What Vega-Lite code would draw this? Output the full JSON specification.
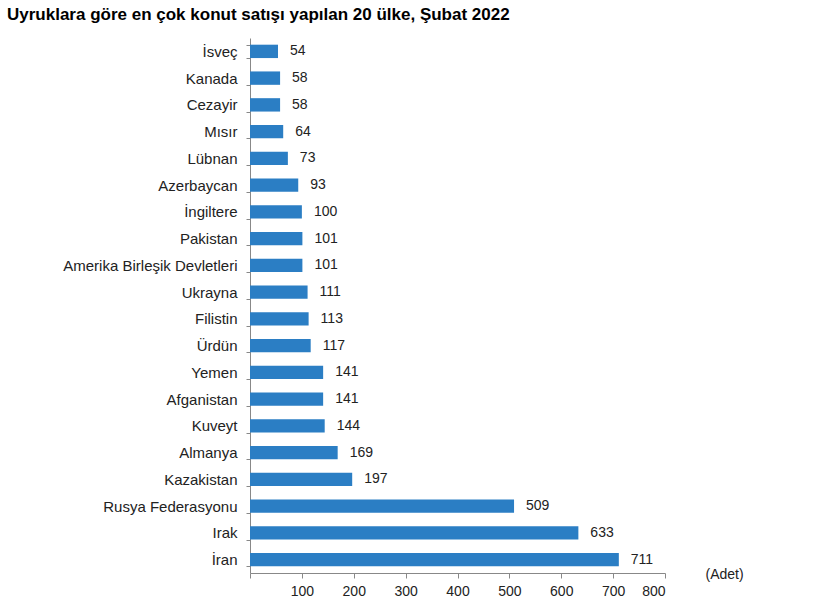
{
  "$schema": "https://vega.github.io/schema/vega-lite/v6.json",
  "autosize": "none",
  "width": 415,
  "height": 535,
  "padding": {"left": 250, "top": 38, "right": 166, "bottom": 35},
  "background": "white",
  "title": {
    "text": "Uyruklara göre en çok konut satışı yapılan 20 ülke, Şubat 2022",
    "anchor": "start",
    "frame": "group",
    "dx": -243,
    "offset": 7,
    "font": "Liberation Sans",
    "fontSize": 17,
    "fontWeight": "bold",
    "color": "#000000"
  },
  "config": {
    "view": {"stroke": null},
    "font": "Liberation Sans"
  },
  "data": {
    "values": [
      {"ulke": "İsveç", "adet": 54},
      {"ulke": "Kanada", "adet": 58},
      {"ulke": "Cezayir", "adet": 58},
      {"ulke": "Mısır", "adet": 64},
      {"ulke": "Lübnan", "adet": 73},
      {"ulke": "Azerbaycan", "adet": 93},
      {"ulke": "İngiltere", "adet": 100},
      {"ulke": "Pakistan", "adet": 101},
      {"ulke": "Amerika Birleşik Devletleri", "adet": 101},
      {"ulke": "Ukrayna", "adet": 111},
      {"ulke": "Filistin", "adet": 113},
      {"ulke": "Ürdün", "adet": 117},
      {"ulke": "Yemen", "adet": 141},
      {"ulke": "Afganistan", "adet": 141},
      {"ulke": "Kuveyt", "adet": 144},
      {"ulke": "Almanya", "adet": 169},
      {"ulke": "Kazakistan", "adet": 197},
      {"ulke": "Rusya Federasyonu", "adet": 509},
      {"ulke": "Irak", "adet": 633},
      {"ulke": "İran", "adet": 711}
    ]
  },
  "encoding": {
    "y": {
      "field": "ulke",
      "type": "nominal",
      "sort": null,
      "scale": {"paddingInner": 0.5, "paddingOuter": 0.25},
      "axis": {
        "title": null,
        "domainColor": "#888888",
        "tickColor": "#888888",
        "tickSize": 4,
        "tickBand": "extent",
        "labelPadding": 9,
        "labelFontSize": 15,
        "labelColor": "#222222",
        "labelFont": "Liberation Sans"
      }
    },
    "x": {
      "field": "adet",
      "type": "quantitative",
      "scale": {"domain": [0, 800]},
      "axis": {
        "title": "(Adet)",
        "titleX": 455,
        "titleY": 1,
        "titleAlign": "left",
        "titleBaseline": "middle",
        "titleFontWeight": "normal",
        "titleFontSize": 14,
        "titleColor": "#222222",
        "titleFont": "Liberation Sans",
        "values": [0, 100, 200, 300, 400, 500, 600, 700, 800],
        "labelExpr": "datum.value == 0 ? '' : datum.label",
        "grid": false,
        "domainColor": "#888888",
        "tickColor": "#888888",
        "tickSize": 5,
        "labelPadding": 6,
        "labelFontSize": 14,
        "labelColor": "#222222",
        "labelFont": "Liberation Sans"
      }
    }
  },
  "layer": [
    {"mark": {"type": "bar", "color": "#2b7ec4"}},
    {
      "mark": {"type": "text", "align": "left", "dx": 12, "fontSize": 14, "color": "#222222", "font": "Liberation Sans"},
      "encoding": {"text": {"field": "adet", "type": "quantitative"}}
    }
  ]
}
